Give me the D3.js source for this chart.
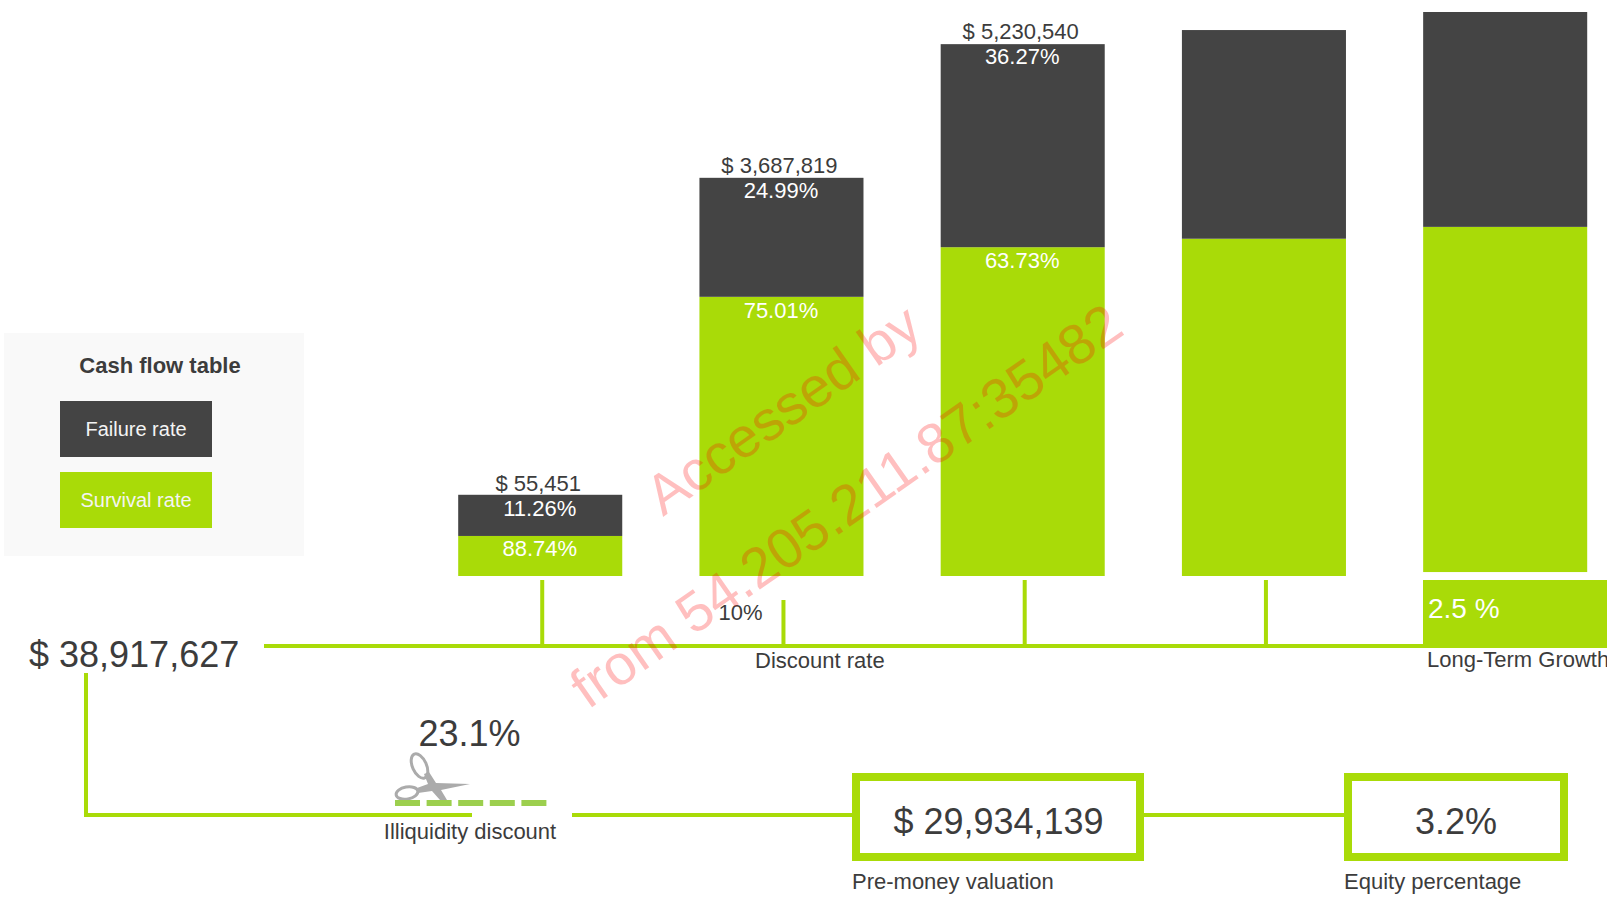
<!DOCTYPE html>
<html>
<head>
<meta charset="utf-8">
<script src="https://cdn.jsdelivr.net/npm/d3@7"></script>
<style>
  html, body { margin: 0; padding: 0; background: #fff; overflow: hidden; }
  svg { display: block; }
  text { font-family: "Liberation Sans", Arial, sans-serif; }
</style>
</head>
<body>
<div id="container"></div>
<script>
/* DATA */
const periods = ["Year 1", "Year 2", "Year 3", "Year 4", "Year 5"];
const cashFlowLabels = ["$ 55,451", "$ 3,687,819", "$ 5,230,540", "", ""];
const failureRates = ["11.26%", "24.99%", "36.27%", "", ""];
const survivalRates = ["88.74%", "75.01%", "63.73%", "", ""];
// bar sizes as % of the tallest bar
const floorHeights = [0, 0, 0, 0, 0.7];
const survivalHeights = [7.1, 49.5, 58.3, 59.8, 61.2];
const failureHeights = [7.3, 21.1, 36.0, 37.0, 38.1];

const legendTitle = "Cash flow table";
const legendLabels = ["Failure rate", "Survival rate"];
const totalValue = "$ 38,917,627";
const discountRate = "10%";
const discountLabel = "Discount rate";
const growthRate = "2.5 %";
const growthLabel = "Long-Term Growth";
const illiquidityRate = "23.1%";
const illiquidityLabel = "Illiquidity discount";
const valuation = "$ 29,934,139";
const valuationLabel = "Pre-money valuation";
const equity = "3.2%";
const equityLabel = "Equity percentage";

/* CONSTANTS */
const width = 1607, height = 909;
const green = "#a9db08", dark = "#444444", ink = "#3c3c3c";
// small baseline corrections for the texts on the first three bars
const topNudge = [1, 0, -0.5], survivalNudge = [-0.6, 0.6, 0];

const svg = d3.select("#container").append("svg")
  .attr("width", width)
  .attr("height", height);

/* SCALES */
const xScale = d3.scaleBand().domain(periods).range([458.2, 1587.2]).paddingInner(0.32);
const yScale = d3.scaleLinear().domain([0, 100]).range([576, 12]);

const rows = periods.map((p, i) => ({
  period: p,
  label: cashFlowLabels[i],
  fail: failureRates[i],
  surv: survivalRates[i],
  y0: floorHeights[i],
  y1: floorHeights[i] + survivalHeights[i],
  y2: floorHeights[i] + survivalHeights[i] + failureHeights[i]
}));

function label(txt, x, y, size, opts = {}) {
  return svg.append("text")
    .attr("x", x).attr("y", y)
    .attr("font-size", size)
    .attr("font-weight", opts.weight || "normal")
    .attr("text-anchor", opts.anchor || "start")
    .attr("fill", opts.fill || ink)
    .text(txt);
}

function hline(x1, x2, y) {
  svg.append("rect").attr("x", x1).attr("y", y).attr("width", x2 - x1).attr("height", 4).attr("fill", green);
}

/* LEGEND */
svg.append("rect").attr("x", 4).attr("y", 333).attr("width", 300).attr("height", 223).attr("fill", "#f9f9f9");
label(legendTitle, 160, 373, 22, { weight: "bold", anchor: "middle" });
svg.selectAll(".legend-box")
  .data(legendLabels)
  .join("rect")
  .attr("class", "legend-box")
  .attr("x", 60)
  .attr("y", (d, i) => 401 + i * 71)
  .attr("width", 152)
  .attr("height", 56)
  .attr("fill", (d, i) => i === 0 ? dark : green);
legendLabels.forEach((d, i) => label(d, 136, 436 + i * 71, 20, { anchor: "middle", fill: "#f4f4f4" }));

/* BARS */
svg.selectAll(".survival")
  .data(rows)
  .join("rect")
  .attr("class", "survival")
  .attr("x", d => xScale(d.period))
  .attr("y", d => yScale(d.y1))
  .attr("width", xScale.bandwidth())
  .attr("height", d => yScale(d.y0) - yScale(d.y1))
  .attr("fill", green);

svg.selectAll(".failure")
  .data(rows)
  .join("rect")
  .attr("class", "failure")
  .attr("x", d => xScale(d.period))
  .attr("y", d => yScale(d.y2))
  .attr("width", xScale.bandwidth())
  .attr("height", d => yScale(d.y1) - yScale(d.y2))
  .attr("fill", dark);

rows.slice(0, 3).forEach((d, i) => {
  const cx = xScale(d.period) + xScale.bandwidth() / 2;
  label(d.label, cx - 2, yScale(d.y2) - 4.6 + topNudge[i], 22, { anchor: "middle" });
  label(d.fail, cx - 0.5, yScale(d.y2) + 20.4 + topNudge[i], 22, { anchor: "middle", fill: "#fff" });
  label(d.surv, cx - 0.5, yScale(d.y1) + 20.6 + survivalNudge[i], 22, { anchor: "middle", fill: "#fff" });
});

/* TOP FLOW LINE */
rows.slice(0, 4).forEach((d, i) => {
  const cx = xScale(d.period) + xScale.bandwidth() / 2;
  const top = i === 1 ? 600 : 580; // second tick is shorter, rate label sits beside it
  svg.append("rect").attr("x", cx).attr("y", top).attr("width", 4).attr("height", 644 - top).attr("fill", green);
});
svg.append("rect").attr("x", 1423).attr("y", 580).attr("width", 184).attr("height", 64).attr("fill", green);
hline(264, width, 644);
label(growthRate, 1428, 618, 28, { fill: "#fff" });
label(growthLabel, 1427, 667, 22);
label(discountRate, 740.5, 620, 22, { anchor: "middle" });
label(discountLabel, 755, 668, 22);
label(totalValue, 29, 666.5, 36);

/* LOWER FLOW LINE */
svg.append("rect").attr("x", 84).attr("y", 673).attr("width", 4).attr("height", 144).attr("fill", green);
hline(84, 472, 813);
hline(572, 852, 813);
hline(1144, 1344, 813);

// scissors
const cut = svg.append("g").attr("fill", "none").attr("stroke", "#ababab");
cut.append("ellipse").attr("cx", 419.5).attr("cy", 766).attr("rx", 7).attr("ry", 13)
  .attr("stroke-width", 3).attr("transform", "rotate(-24 419.5 766)");
cut.append("ellipse").attr("cx", 407).attr("cy", 793).attr("rx", 11).attr("ry", 6)
  .attr("stroke-width", 3).attr("transform", "rotate(-10 407 793)");
cut.append("path").attr("fill", "#ababab").attr("stroke", "none")
  .attr("d", "M424,774 L429,772 L436,783 L470,784 L441,790 L447,800 L440,800 L432,791 L418,793 L417,788 L428,784 Z");

svg.selectAll(".dash")
  .data(d3.range(5))
  .join("rect")
  .attr("class", "dash")
  .attr("x", i => 395 + i * 31.6)
  .attr("y", 800)
  .attr("width", 25)
  .attr("height", 6)
  .attr("fill", "#9ccf4e");
label(illiquidityRate, 469.5, 746, 36, { anchor: "middle" });
label(illiquidityLabel, 470, 839, 22, { anchor: "middle" });

/* RESULT BOXES */
function box(x, w) {
  svg.append("rect").attr("x", x + 4).attr("y", 777).attr("width", w - 8).attr("height", 80)
    .attr("fill", "#fff").attr("stroke", green).attr("stroke-width", 8);
}
box(852, 292);
box(1344, 224);
label(valuation, 998.5, 834, 36, { anchor: "middle" });
label(equity, 1456, 834, 36, { anchor: "middle" });
label(valuationLabel, 852, 889, 22);
label(equityLabel, 1344, 889, 22);

/* WATERMARK */
[["Accessed by", 663, 517], ["from 54.205.211.87:35482", 588, 710]].forEach(([t, x, y]) => {
  svg.append("text")
    .attr("transform", `translate(${x},${y}) rotate(-35)`)
    .attr("font-size", 56.4)
    .attr("fill", "rgba(255,0,0,0.25)")
    .text(t);
});
</script>
</body>
</html>
